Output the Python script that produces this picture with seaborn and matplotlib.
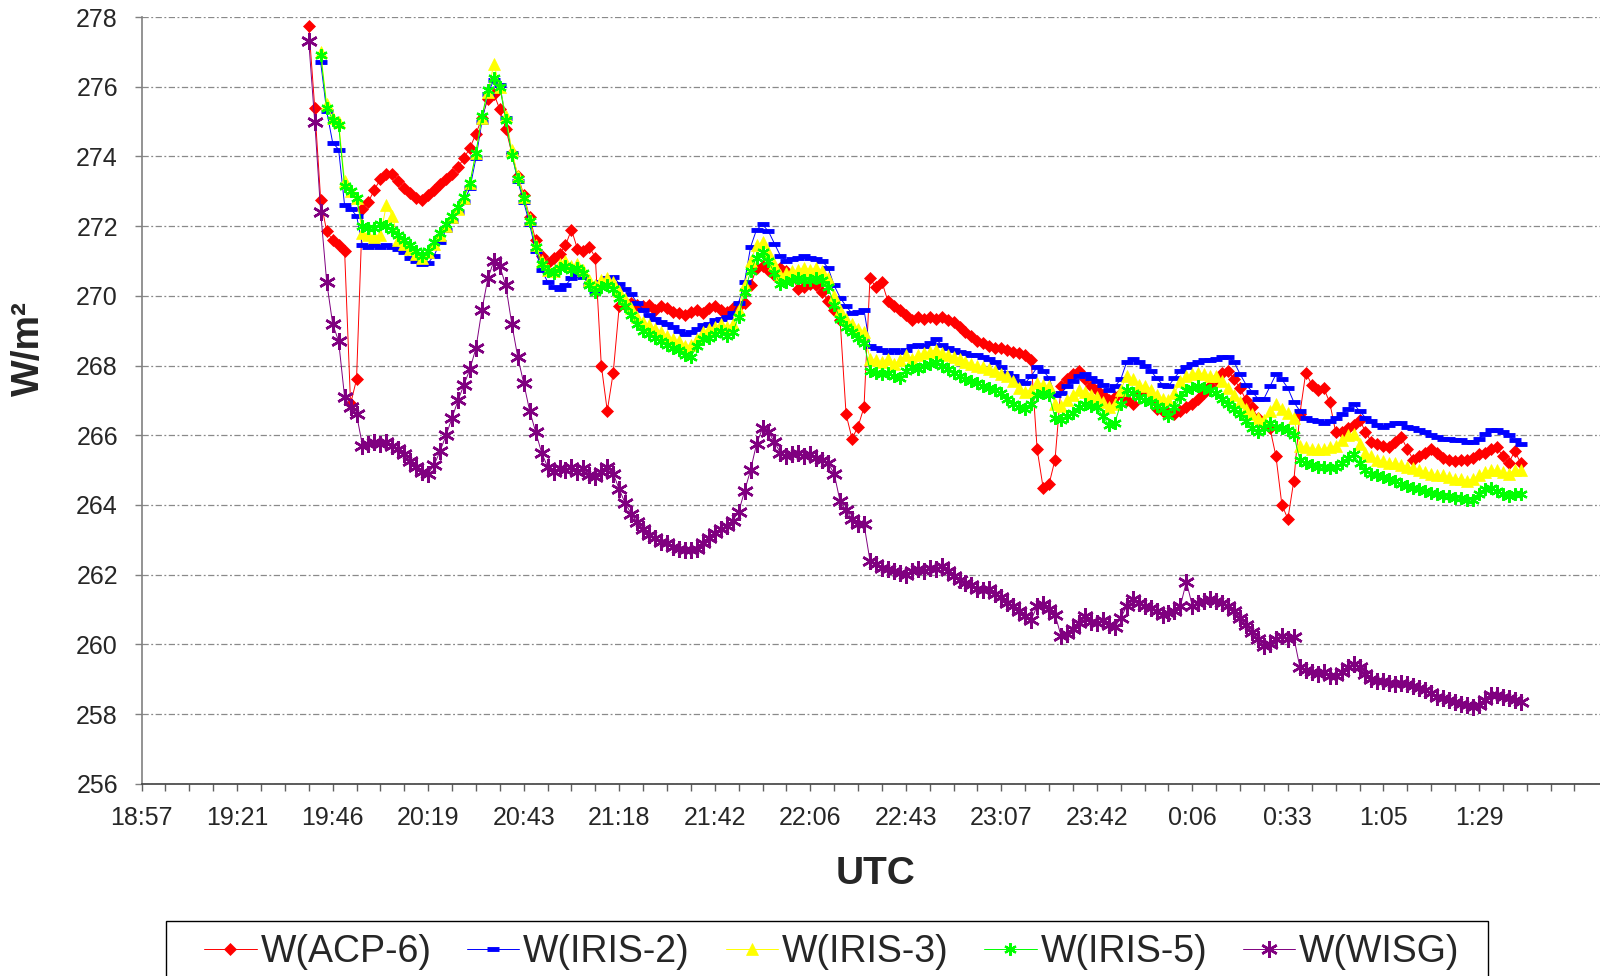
import numpy as np
import seaborn as sns
import matplotlib.pyplot as plt
from matplotlib.patches import Rectangle

nan = np.nan

# sample position on the category axis (one sample every quarter tick)
t = np.arange(7.0, 58.0, 0.25)

acp6 = [
    277.75, 275.4, 272.75, 271.85, 271.6, 271.45, 271.3, 266.9,
    267.6, 272.5, 272.7, 273.05, 273.35, 273.5, 273.5, 273.3,
    273.1, 272.95, 272.8, 272.75, 272.9, 273.05, 273.2, 273.35,
    273.5, 273.7, 273.95, 274.25, 274.65, 275.1, 275.65, 275.8,
    275.35, 274.8, 274.1, 273.45, 272.9, 272.25, 271.6, 271.15,
    270.95, 271.1, 271.2, 271.45, 271.9, 271.35, 271.3, 271.4,
    271.1, 268.0, 266.7, 267.8, 269.7, 269.75, 269.8, 269.75,
    269.7, 269.75, 269.6, 269.7, 269.65, 269.55, 269.5, 269.45,
    269.55, 269.6, 269.5, 269.65, 269.7, 269.6, 269.55, 269.65,
    269.7, 269.8, 270.3, 270.8, 270.85, 270.75, 270.6, 270.8,
    270.7, 270.5, 270.2, 270.25, 270.35, 270.3, 270.1, 269.85,
    269.6, 269.3, 266.6, 265.9, 266.25, 266.8, 270.5, 270.25,
    270.4, 269.85, 269.7, 269.6, 269.45, 269.3, 269.4, 269.35,
    269.4, 269.35, 269.4, 269.3, 269.25, 269.1, 268.95, 268.85,
    268.7, 268.65, 268.55, 268.5, 268.5, 268.45, 268.4, 268.35,
    268.3, 268.15, 265.6, 264.5, 264.6, 265.3, 267.4, 267.6,
    267.75, 267.85, 267.6, 267.4, 267.3, 267.15, 267.0, 267.1,
    267.2, 267.0, 266.9, 267.2, 267.3, 267.0, 266.75, 266.7,
    266.65, 266.6, 266.7, 266.8, 266.9, 267.05, 267.2, 267.4,
    267.6, 267.8, 267.85, 267.6, 267.35, 267.0, 266.8, 266.5,
    266.3, 266.2, 265.4, 264.0, 263.6, 264.7, 266.6, 267.8,
    267.45, 267.3, 267.35, 266.95, 266.1, 266.1, 266.2, 266.3,
    266.45, 266.1, 265.8, 265.75, 265.7, 265.65, 265.8, 265.95,
    265.6, 265.3, 265.4, 265.5, 265.6, 265.5, 265.35, 265.3,
    265.25, 265.3, 265.3, 265.35, 265.45, 265.5, 265.6, 265.65,
    265.4, 265.2, 265.55, 265.2,
]

iris2 = [
    nan, nan, 276.7, 275.3, 274.4, 274.2, 272.6, 272.5,
    272.3, 271.45, 271.4, 271.45, 271.4, 271.45, 271.4, 271.35,
    271.25, 271.1, 271.0, 270.9, 270.95, 271.15, 271.55, 271.9,
    272.15, 272.4, 272.7, 273.1, 273.95, 275.0, 275.8, 276.2,
    276.05, 275.1, 274.1, 273.3, 272.7, 272.05, 271.3, 270.75,
    270.4, 270.25, 270.2, 270.3, 270.5, 270.6, 270.55, 270.3,
    270.15, 270.4, 270.5, 270.55, 270.35, 270.2, 270.05, 269.8,
    269.6, 269.45, 269.35, 269.25, 269.2, 269.1, 269.0, 268.9,
    268.95, 269.05, 269.15, 269.2, 269.3, 269.35, 269.4, 269.5,
    269.8, 270.4, 271.4, 271.9, 272.05, 271.85, 271.5, 271.15,
    271.0, 271.05, 271.1, 271.15, 271.1, 271.05, 271.0, 270.8,
    270.3, 269.95, 269.7, 269.5, 269.55, 269.6, 268.55, 268.5,
    268.45, 268.4, 268.45, 268.4, 268.45, 268.55, 268.6, 268.55,
    268.65, 268.75, 268.6, 268.5, 268.45, 268.4, 268.35, 268.3,
    268.3, 268.25, 268.2, 268.1, 267.95, 267.8, 267.7, 267.55,
    267.5, 267.7, 267.95, 267.85, 267.65, 267.15, 267.2, 267.4,
    267.55, 267.7, 267.75, 267.65, 267.55, 267.45, 267.3, 267.4,
    267.6, 268.1, 268.2, 268.1, 268.0, 267.85, 267.65, 267.45,
    267.4, 267.65, 267.85, 267.95, 268.05, 268.1, 268.15, 268.15,
    268.2, 268.25, 268.25, 268.1, 267.75, 267.45, 267.25, 267.05,
    267.05, 267.4, 267.75, 267.6, 267.35, 266.95, 266.7, 266.5,
    266.45, 266.4, 266.35, 266.4, 266.5, 266.6, 266.75, 266.9,
    266.7, 266.5, 266.4, 266.3, 266.25, 266.3, 266.35, 266.35,
    266.25, 266.2, 266.15, 266.1, 266.0, 265.95, 265.9, 265.9,
    265.85, 265.85, 265.8, 265.8, 265.9, 266.05, 266.15, 266.15,
    266.1, 266.0, 265.85, 265.75,
]

iris3 = [
    nan, nan, 277.0, 275.5, 275.1, 275.0, 273.3, 273.0,
    272.8, 271.8, 271.75, 271.7, 271.75, 272.6, 272.3, 271.6,
    271.5, 271.35, 271.2, 271.1, 271.25, 271.5, 271.75, 272.0,
    272.25, 272.5, 272.8, 273.25, 274.1, 275.1, 275.85, 276.65,
    276.0, 275.15, 274.2, 273.45, 272.85, 272.2, 271.45, 271.0,
    270.75, 270.7, 270.9, 271.0, 270.85, 270.9, 270.75, 270.45,
    270.3, 270.45, 270.5, 270.4, 270.15, 269.9, 269.65, 269.4,
    269.25, 269.15, 269.05, 268.95, 268.85, 268.75, 268.7, 268.55,
    268.6, 268.75, 268.95, 269.05, 269.1, 269.2, 269.1, 269.2,
    269.6, 270.3, 271.0, 271.45, 271.55, 271.25, 270.9, 270.6,
    270.65, 270.7, 270.75, 270.8, 270.75, 270.8, 270.7, 270.5,
    270.0, 269.6, 269.35, 269.2, 269.05, 268.95, 268.2, 268.15,
    268.1, 268.2, 268.05, 268.15, 268.3, 268.2, 268.3, 268.35,
    268.4, 268.45, 268.35, 268.3, 268.25, 268.2, 268.1, 268.05,
    268.0, 267.95, 267.9, 267.85, 267.75, 267.7, 267.55, 267.35,
    267.25, 267.3, 267.5, 267.45, 267.4, 266.9, 266.85, 267.0,
    267.15, 267.3, 267.25, 267.15, 267.1, 266.95, 266.8, 266.9,
    267.3, 267.7, 267.6, 267.45, 267.4, 267.3, 267.15, 267.05,
    267.0, 267.2, 267.55, 267.7, 267.75, 267.8, 267.75, 267.7,
    267.7, 267.55, 267.35, 267.15, 266.95, 266.75, 266.6, 266.5,
    266.45, 266.7, 266.9, 266.75, 266.65, 266.5, 265.7, 265.65,
    265.6, 265.6, 265.6, 265.65, 265.7, 265.85, 266.0, 266.05,
    265.75, 265.5, 265.4, 265.3, 265.25, 265.2, 265.2, 265.15,
    265.1, 265.05, 265.0, 264.95, 264.9, 264.85, 264.85, 264.8,
    264.75, 264.75, 264.7, 264.75, 264.85, 264.95, 265.0, 265.0,
    264.95, 264.9, 265.0, 265.0,
]

iris5 = [
    nan, nan, 276.9, 275.4, 275.05, 274.9, 273.15, 273.0,
    272.8, 272.0, 271.95, 271.95, 272.05, 272.0, 271.9, 271.75,
    271.6, 271.45, 271.3, 271.15, 271.3, 271.55, 271.8, 272.05,
    272.3, 272.55, 272.85, 273.25, 274.1, 275.15, 275.9, 276.25,
    276.0, 275.05, 274.05, 273.35, 272.8, 272.15, 271.4, 270.9,
    270.7, 270.65, 270.8, 270.85, 270.75, 270.8, 270.65, 270.3,
    270.1, 270.25, 270.3, 270.2, 269.95, 269.7, 269.45, 269.2,
    269.0, 268.9, 268.8, 268.7, 268.6, 268.5, 268.45, 268.3,
    268.25, 268.55, 268.75, 268.8, 268.9, 269.0, 268.85, 268.95,
    269.4, 270.1, 270.7, 271.1, 271.25, 271.0, 270.65, 270.35,
    270.4, 270.45, 270.5, 270.45, 270.45, 270.5, 270.45, 270.25,
    269.75, 269.35, 269.1, 268.95, 268.8, 268.65, 267.85, 267.8,
    267.75, 267.8, 267.7, 267.65, 267.85, 267.95, 267.9, 268.0,
    268.05, 268.1, 268.0, 267.9, 267.8, 267.7, 267.6, 267.55,
    267.5, 267.4, 267.35, 267.3, 267.2, 267.05, 266.9, 266.8,
    266.75, 266.9, 267.15, 267.2, 267.15, 266.5, 266.45, 266.55,
    266.65, 266.8, 266.9, 266.85, 266.8, 266.55, 266.3, 266.35,
    266.9, 267.3, 267.2, 267.1, 267.0, 266.95, 266.85, 266.75,
    266.55, 266.8, 267.1, 267.3, 267.35, 267.4, 267.35, 267.3,
    267.2, 267.05, 266.9, 266.75, 266.6, 266.4, 266.2, 266.1,
    266.2, 266.35, 266.25, 266.2, 266.15, 266.0, 265.3, 265.2,
    265.15, 265.1, 265.1, 265.05, 265.1, 265.2, 265.35, 265.45,
    265.2, 265.0, 264.9, 264.85, 264.8, 264.75, 264.7, 264.6,
    264.55, 264.5, 264.45, 264.4, 264.35, 264.3, 264.25, 264.25,
    264.2, 264.2, 264.15, 264.15, 264.3, 264.45, 264.5, 264.4,
    264.3, 264.25, 264.3, 264.3,
]

wisg = [
    277.3, 275.0, 272.4, 270.4, 269.2, 268.7, 267.1, 266.8,
    266.6, 265.7, 265.75, 265.8, 265.75, 265.8, 265.7, 265.6,
    265.45, 265.25, 265.1, 264.95, 264.9, 265.15, 265.55, 266.0,
    266.5, 267.0, 267.45, 267.9, 268.5, 269.6, 270.5, 271.0,
    270.85, 270.3, 269.2, 268.25, 267.5, 266.7, 266.1, 265.5,
    265.1, 264.95, 265.05, 265.0, 265.1, 264.95, 265.05, 264.85,
    264.8, 264.95, 265.1, 264.9, 264.45, 264.05, 263.75, 263.5,
    263.3, 263.15, 263.05, 262.95, 262.9, 262.8, 262.75, 262.7,
    262.7, 262.75, 262.9, 263.05, 263.2, 263.3, 263.4, 263.55,
    263.8, 264.4, 265.0, 265.75, 266.2, 266.1, 265.8, 265.5,
    265.4, 265.45, 265.5, 265.4, 265.45, 265.35, 265.3, 265.2,
    264.9, 264.1, 263.85, 263.6, 263.45, 263.45, 262.4, 262.3,
    262.2, 262.15, 262.1, 262.05, 262.0, 262.1, 262.15, 262.1,
    262.2, 262.15, 262.25, 262.1, 261.95, 261.85, 261.75, 261.7,
    261.6, 261.55, 261.6, 261.45, 261.35, 261.2, 261.1, 260.95,
    260.8, 260.7, 261.1, 261.15, 261.0, 260.85, 260.25, 260.3,
    260.45, 260.6, 260.8, 260.65, 260.6, 260.7, 260.55, 260.5,
    260.75, 261.1, 261.3, 261.2, 261.1, 261.05, 260.95, 260.85,
    260.9, 260.95, 261.1, 261.8, 261.1, 261.2, 261.25, 261.3,
    261.25, 261.2, 261.1, 260.95, 260.75, 260.55, 260.35, 260.15,
    259.95, 260.0, 260.15, 260.25, 260.15, 260.2, 259.35, 259.25,
    259.2, 259.15, 259.2, 259.1, 259.1, 259.2, 259.35, 259.45,
    259.35, 259.15, 259.0, 258.95, 258.95, 258.9, 258.85, 258.9,
    258.85, 258.8, 258.75, 258.7, 258.6, 258.5, 258.45, 258.4,
    258.35, 258.3, 258.25, 258.2, 258.25, 258.4, 258.55, 258.55,
    258.5, 258.45, 258.4, 258.35,
]

tick_pos = [0, 4, 8, 12, 16, 20, 24, 28, 32, 36, 40, 44, 48, 52, 56]
tick_labels = ["18:57", "19:21", "19:46", "20:19", "20:43", "21:18", "21:42",
               "22:06", "22:43", "23:07", "23:42", "0:06", "0:33", "1:05", "1:29"]

sns.set_theme(style="white")
plt.rcParams['font.family'] = ['Liberation Sans', 'DejaVu Sans']

fig = plt.figure(figsize=(16, 9.76), dpi=100)
ax = fig.add_axes([0.0885, 0.197, 0.9115, 0.7855])

series = [
    ("W(ACP-6)", acp6, "#FF0000", dict(marker="D", markersize=6.5, markeredgewidth=0.5)),
    ("W(IRIS-2)", iris2, "#0000FF", dict(marker="_", markersize=9, markeredgewidth=3.5)),
    ("W(IRIS-3)", iris3, "#FFFF00", dict(marker="^", markersize=8, markeredgewidth=0.5)),
    ("W(IRIS-5)", iris5, "#00FF00", dict(marker=(6, 2, 0), markersize=9, markeredgewidth=1.6)),
    ("W(WISG)", wisg, "#800080", dict(marker=(6, 2, 0), markersize=12, markeredgewidth=1.8)),
]
for name, vals, col, mk in series:
    sns.lineplot(x=t, y=vals, ax=ax, color=col, label=name, linewidth=0.7,
                 estimator=None, sort=False, markeredgecolor=col,
                 markerfacecolor=col, **mk)

ax.set_xlim(0, 61.07)
ax.set_ylim(256, 278)
ax.set_yticks(range(256, 279, 2))
ax.set_xticks(tick_pos)
ax.set_xticklabels(tick_labels)
ax.set_xticks(range(0, 61), minor=True)
ax.set_axisbelow(True)
ax.yaxis.grid(True, color="#8a8a8a", linestyle=(0, (5, 2, 1.5, 2)), linewidth=0.9)
ax.xaxis.grid(False)

for s in ["top", "right"]:
    ax.spines[s].set_visible(False)
ax.spines["left"].set_color("#808080")
ax.spines["bottom"].set_color("#404040")
ax.spines["left"].set_linewidth(1.2)
ax.spines["bottom"].set_linewidth(1.2)

ax.tick_params(axis="y", which="major", direction="out", length=5, width=1,
               color="#808080", labelsize=18, pad=12, left=True)
ax.tick_params(axis="x", which="both", direction="out", length=5, width=1,
               color="#606060", labelsize=18, pad=11, bottom=True)
ax.set_xlabel("")
ax.set_ylabel("")

fig.text(29 / 1600, 1 - 348 / 976, "W/m²", rotation=90, fontsize=28,
         fontweight="bold", ha="center", va="center")
fig.text(875 / 1600, 1 - 884 / 976, "UTC", fontsize=28, fontweight="bold",
         ha="center", va="baseline")

handles, labels = ax.get_legend_handles_labels()
ax.get_legend().remove()
leg = fig.legend(handles, labels, loc="upper center", bbox_to_anchor=(0.5199, 1 - 921 / 976),
                 ncol=5, fontsize=27, frameon=False,
                 handlelength=1.4, handletextpad=0.1, columnspacing=0.95,
                 borderpad=0.35, borderaxespad=0)

# legend box (runs off the bottom edge as in the original)
fig.patches.append(Rectangle((166 / 1600, -0.05), (1488 - 166) / 1600, 1 - 921 / 976 + 0.05,
                             transform=fig.transFigure, fill=False,
                             edgecolor="black", linewidth=1.0))

fig.savefig("out.png", dpi=100)
